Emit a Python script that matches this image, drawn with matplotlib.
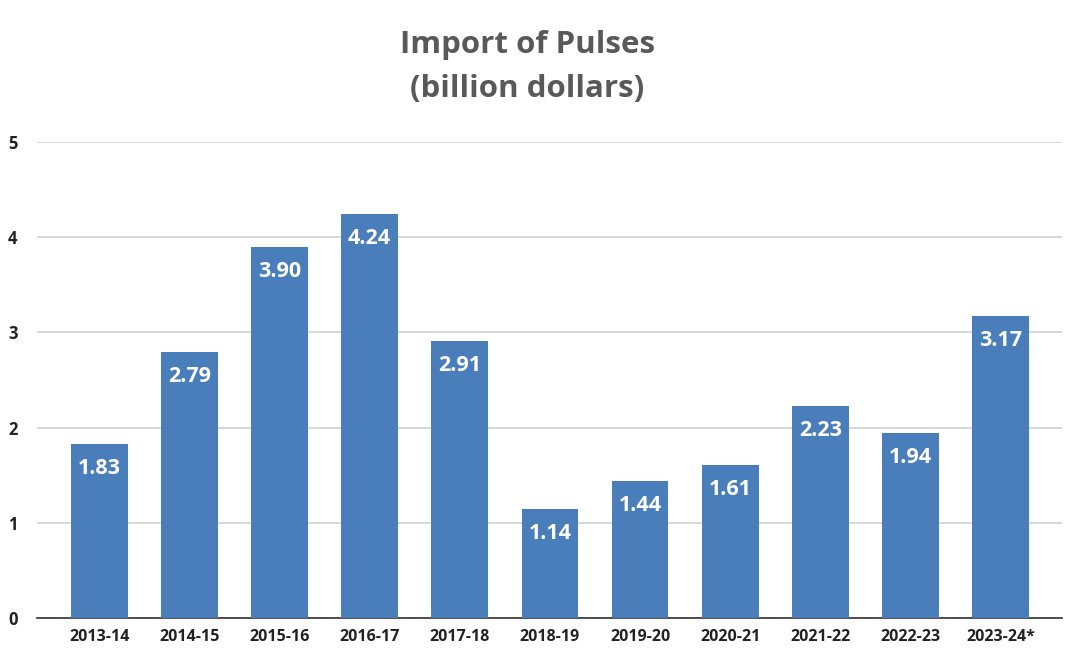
import matplotlib.pyplot as plt

years = ["2013-14", "2014-15", "2015-16", "2016-17", "2017-18", "2018-19",
         "2019-20", "2020-21", "2021-22", "2022-23", "2023-24*"]
imports = [1.83, 2.79, 3.90, 4.24, 2.91, 1.14, 1.44, 1.61, 2.23, 1.94, 3.17]
labels = ["1.83", "2.79", "3.90", "4.24", "2.91", "1.14", "1.44", "1.61", "2.23", "1.94", "3.17"]

BAR_COLOR = "#4a7ebb"

plt.rcParams["font.family"] = ["Open Sans", "DejaVu Sans"]

fig = plt.figure(figsize=(10.74, 6.57), dpi=100)
ax = fig.add_axes([0.0345, 0.0594, 0.9543, 0.7245])

x = range(len(years))
bars = ax.bar(x, imports, width=0.63, color=BAR_COLOR, zorder=3)

for bar, lab in zip(bars, labels):
    ax.annotate(lab, (bar.get_x() + bar.get_width() / 2, bar.get_height()),
                xytext=(0, -10), textcoords="offset points",
                ha="center", va="top", color="white",
                fontsize=15.5, fontweight="bold", zorder=4)

ax.set_xlim(-0.69, 10.68)
ax.set_ylim(0, 5)
ax.set_yticks([0, 1, 2, 3, 4, 5])
ax.set_xticks(list(x))
ax.set_xticklabels(years, fontsize=11.5, fontweight="bold", color="#222222")
for t in ax.get_yticklabels():
    t.set_fontweight("bold")
ax.tick_params(axis="y", labelsize=12, labelcolor="#222222", length=0, pad=14)
ax.tick_params(axis="x", length=0, pad=8)

ax.grid(axis="y", color="#d0d0d0", linewidth=1.2, zorder=0)
for s in ["top", "right", "left"]:
    ax.spines[s].set_visible(False)
ax.spines["bottom"].set_color("#333333")
ax.spines["bottom"].set_linewidth(1.2)

fig.text(0.491, 0.898, "Import of Pulses\n(billion dollars)", ha="center", va="center",
         fontsize=22.5, fontweight="bold", color="#595959", linespacing=1.65)

fig.savefig("out.png", dpi=100)
